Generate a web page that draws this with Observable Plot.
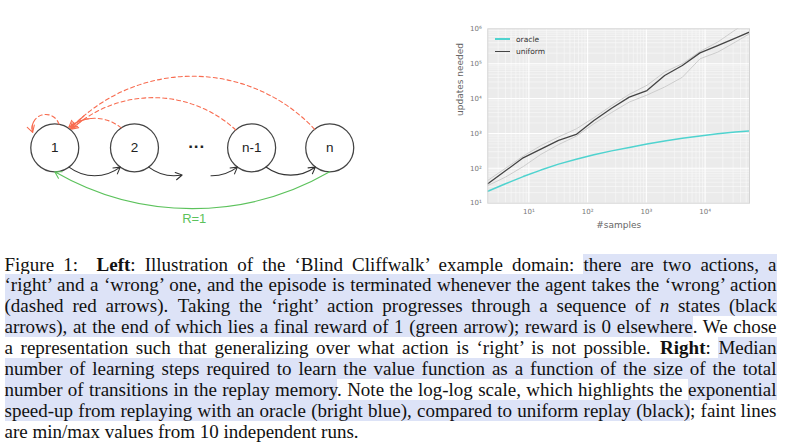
<!DOCTYPE html>
<html><head><meta charset="utf-8">
<script src="https://cdn.jsdelivr.net/npm/d3@7"></script>
<script src="https://cdn.jsdelivr.net/npm/@observablehq/plot@0.6"></script>
<style>
html,body{margin:0;padding:0;background:#fff;}
#fig{position:relative;width:792px;height:447px;overflow:hidden;background:#fff;}
#diagram{position:absolute;left:0;top:0;}
#chart{position:absolute;left:430px;top:0;}
#legend{position:absolute;left:0;top:0;font-family:"DejaVu Sans";font-size:7.5px;color:#333;}
.lgline{position:absolute;width:15px;}
.lgtext{position:absolute;white-space:nowrap;line-height:9px;}
#caption{position:absolute;left:4.5px;top:254.5px;width:772px;font-family:"Liberation Serif";font-size:19px;color:#111;}
.ln{height:20.9px;line-height:20.9px;white-space:nowrap;}
.hl{background:#dde3f7;}
</style>
</head><body>
<div id="fig">
  <div id="diagram"></div>
  <div id="chart"></div>
  <div id="legend"></div>
  <div id="caption">
    <div class="ln"><span>Figure 1:&#8194; <b>Left</b>: Illustration of the ‘Blind Cliffwalk’ example domain: <span class="hl">there are two actions, a</span></span></div>
    <div class="ln"><span><span class="hl">‘right’ and a ‘wrong’ one, and the episode is terminated whenever the agent takes the ‘wrong’ action</span></span></div>
    <div class="ln"><span><span class="hl">(dashed red arrows).&#8194;Taking the ‘right’ action progresses through a sequence of <i>n</i> states (black</span></span></div>
    <div class="ln"><span><span class="hl">arrows), at the end of which lies a final reward of 1 (green arrow); reward is 0 elsewhere</span>. We chose</span></div>
    <div class="ln"><span>a representation such that generalizing over what action is ‘right’ is not possible.&#8194;<b>Right</b>: <span class="hl">Median</span></span></div>
    <div class="ln"><span><span class="hl">number of learning steps required to learn the value function as a function of the size of the total</span></span></div>
    <div class="ln"><span><span class="hl">number of transitions in the replay memory</span>. Note the log-log scale, which highlights the <span class="hl">exponential</span></span></div>
    <div class="ln"><span><span class="hl">speed-up from replaying with an oracle (bright blue), compared to uniform replay (black)</span>; faint lines</span></div>
    <div class="ln"><span>are min/max values from 10 independent runs.</span></div>
  </div>
</div>
<script>
// ---------------- chart data ----------------
const samples        = [2, 4, 8, 16, 32, 64, 128, 256, 512, 1024, 2048, 4096, 8192, 16384, 32768, 65536];
const oracleUpdates  = [22, 36, 58, 89, 132, 182, 245, 316, 398, 501, 603, 724, 851, 977, 1096, 1202];
const uniformUpdates = [36, 85, 200, 355, 630, 933, 2340, 5250, 11000, 17000, 45700, 89000, 204000, 331000, 537000, 891000];
const uniformMin     = [32, 56, 112, 251, 479, 832, 1900, 3980, 7940, 12600, 21400, 40700, 138000, 214000, 417000, 830000];
const uniformMax     = [45, 100, 224, 447, 794, 1350, 2820, 6310, 13200, 24000, 57500, 100000, 224000, 417000, 933000, 2000000];
const seriesNames    = ["oracle", "uniform"];
const xTicks         = [10, 100, 1000, 10000];
const yTicks         = [10, 100, 1000, 10000, 100000, 1000000];
const xLabel = "#samples";
const yLabel = "updates needed";

// ---------------- diagram data ----------------
const nodeNames   = ["1", "2", "n-1", "n"];
const ellipsis    = "···";
const rightSteps  = [["1", "2"], ["n-1", "n"]];
const wrongSteps  = [["2", "1"], ["n-1", "1"], ["n", "1"]];
const rewardStep  = ["n", "1"];
const rewardText  = "R=1";

// ---------------- chart ----------------
const colors = {oracle: "#4fd3cf", uniform: "#454545", faint: "#cdcdcd"};
const sup = {1: "¹", 2: "²", 3: "³", 4: "⁴", 5: "⁵", 6: "⁶"};
const fmt = d => "10" + sup[Math.round(Math.log10(d))];
const rows = samples.map((s, i) => ({s, oracle: oracleUpdates[i], uniform: uniformUpdates[i], lo: uniformMin[i], hi: uniformMax[i]}));
const minorX = [], minorY = [];
for (const dec of [1, 10, 100, 1000, 10000]) for (let m = 2; m <= 9; m++) minorX.push(dec * m);
for (const dec of [10, 100, 1000, 10000, 100000]) for (let m = 2; m <= 9; m++) minorY.push(dec * m);

const chart = Plot.plot({
  width: 362, height: 240,
  marginLeft: 57.3, marginRight: 43, marginTop: 28.3, marginBottom: 37.3,
  style: {fontFamily: "DejaVu Sans", fontSize: "7px", color: "#777", background: "transparent"},
  x: {type: "log", domain: [2, 57000], ticks: xTicks, tickFormat: fmt, tickSize: 0, tickPadding: 6, label: null},
  y: {type: "log", domain: [10, 1e6], ticks: yTicks, tickFormat: fmt, tickSize: 0, tickPadding: 6, label: null},
  marks: [
    Plot.frame({fill: "#ebebeb", stroke: "none"}),
    Plot.ruleX(minorX.filter(v => v >= 2 && v <= 57000), {stroke: "#fafafa", strokeWidth: 0.6}),
    Plot.ruleY(minorY, {stroke: "#fafafa", strokeWidth: 0.6}),
    Plot.ruleX(xTicks, {stroke: "white", strokeWidth: 1.1}),
    Plot.ruleY(yTicks, {stroke: "white", strokeWidth: 1.1}),
    Plot.line(rows, {x: "s", y: "lo", stroke: colors.faint, strokeWidth: 1, clip: true}),
    Plot.line(rows, {x: "s", y: "hi", stroke: colors.faint, strokeWidth: 1, clip: true}),
    Plot.line(rows, {x: "s", y: "oracle", stroke: colors.oracle, strokeWidth: 1.5, clip: true}),
    Plot.line(rows, {x: "s", y: "uniform", stroke: colors.uniform, strokeWidth: 1.3, clip: true}),
    Plot.frame({stroke: "#d4d4d4", strokeWidth: 1}),
    Plot.text([xLabel], {frameAnchor: "bottom", dy: 25, fontSize: 9, fill: "#666"}),
    Plot.text([yLabel], {frameAnchor: "left", dx: -28, rotate: -90, fontSize: 9, fill: "#666"})
  ]
});
document.getElementById("chart").appendChild(chart);

// legend (HTML overlay inside the axes)
const legend = document.getElementById("legend");
seriesNames.forEach((name, i) => {
  const yc = 39.3 + i * 12.4;
  const h = name === "oracle" ? 1.8 : 1.4;
  const ln = document.createElement("div");
  ln.className = "lgline";
  ln.style.left = "495px"; ln.style.top = (yc - h / 2) + "px";
  ln.style.height = h + "px";
  ln.style.background = colors[name];
  legend.appendChild(ln);
  const tx = document.createElement("div");
  tx.className = "lgtext";
  tx.style.left = "516px"; tx.style.top = (yc - 4.8) + "px";
  tx.textContent = name;
  legend.appendChild(tx);
});

// ---------------- diagram ----------------
const slot = {"1": 0, "2": 1, [ellipsis]: 1.78, "n-1": 2.47, "n": 3.45};
const k = 79.7;         // pixels per layout unit (same on x and y)
const R = 24;           // node radius in px
const red = "#f86c50", green = "#5cc25c", black = "#333";
const wrongBend = {"2": -73, "n-1": -54, "n": -55};
const arrowBase = {x1: d => slot[d[0]], y1: 0, x2: d => slot[d[1]], y2: 0};

const marks = [];
marks.push(Plot.dot(nodeNames, {x: d => slot[d], y: 0, r: R, fill: "white", stroke: "#444", strokeWidth: 1.25}));
marks.push(Plot.text(nodeNames, {x: d => slot[d], y: 0, text: d => d, fontSize: 13.5, fill: "#222"}));
marks.push(Plot.text([ellipsis], {x: slot[ellipsis], y: 0, text: d => d, fontSize: 17, fontWeight: "bold", fill: "#222", dy: -1}));

marks.push(Plot.arrow(rightSteps, {...arrowBase, bend: -70, insetStart: R, insetEnd: R, stroke: black, strokeWidth: 1.1, headLength: 10}));
marks.push(Plot.arrow([["2"]], {x1: d => slot[d[0]], y1: 0, x2: d => slot[d[0]] + 1, y2: 0, bend: -70, insetStart: R, insetEnd: 42, stroke: black, strokeWidth: 1.1, headLength: 10}));
marks.push(Plot.arrow([["n-1"]], {x1: d => slot[d[0]] - 1, y1: 0, x2: d => slot[d[0]], y2: 0, bend: -70, insetStart: 48, insetEnd: R, stroke: black, strokeWidth: 1.1, headLength: 10}));

for (const e of wrongSteps) {
  const chord = Math.abs(slot[e[0]] - slot[e[1]]) * k;
  const bend = wrongBend[e[0]];
  marks.push(Plot.arrow([e], {...arrowBase, bend, insetStart: R, insetEnd: R + 1, headLength: 0, stroke: red, strokeWidth: 1.1, strokeDasharray: "4,3"}));
  marks.push(Plot.arrow([e], {...arrowBase, bend, insetStart: chord - R - 3, insetEnd: R + 1, headLength: 10, stroke: red, strokeWidth: 1.1}));
}
const a0 = 80 * Math.PI / 180, a1 = 145 * Math.PI / 180;
const loop = {
  x1: d => slot[d] + R * Math.cos(a0) / k, y1: R * Math.sin(a0) / k,
  x2: d => slot[d] + (R + 3) * Math.cos(a1) / k, y2: (R + 3) * Math.sin(a1) / k
};
const loopChord = Math.hypot(R * Math.cos(a0) - (R + 3) * Math.cos(a1), R * Math.sin(a0) - (R + 3) * Math.sin(a1));
marks.push(Plot.arrow(["1"], {...loop, bend: -90, headLength: 0, stroke: red, strokeWidth: 1.1, strokeDasharray: "4,3"}));
marks.push(Plot.arrow(["1"], {...loop, bend: -90, insetStart: loopChord - 2, headLength: 10, stroke: red, strokeWidth: 1.1}));

marks.push(Plot.arrow([rewardStep], {x1: d => slot[d[0]], y1: -R / k, x2: d => slot[d[1]], y2: -R / k, bend: 30, stroke: green, strokeWidth: 1.1, headLength: 10}));
marks.push(Plot.text([rewardText], {x: (slot[rewardStep[0]] + slot[rewardStep[1]]) / 2, y: 0, dx: 2, dy: 71, text: d => d, fontSize: 13, fill: green}));

const diagram = Plot.plot({
  width: 380, height: 240, margin: 0,
  style: {fontFamily: "Liberation Sans", background: "transparent"},
  x: {domain: [-0.681, 4.087], axis: null},
  y: {domain: [-1.163, 1.848], axis: null},
  marks
});
document.getElementById("diagram").appendChild(diagram);

// ---------------- caption justification ----------------
const W = 772;
const lines = [...document.querySelectorAll("#caption .ln")];
lines.forEach((ln, i) => {
  if (i === lines.length - 1) return;
  const inner = ln.firstElementChild;
  const w = inner.getBoundingClientRect().width;
  const n = (inner.textContent.match(/ /g) || []).length;
  let ws = (W - w) / n;
  if (ws < -1.6) {
    ws = -1.6;
    ln.style.wordSpacing = ws + "px";
    const w2 = inner.getBoundingClientRect().width;
    inner.style.display = "inline-block";
    inner.style.transformOrigin = "0 50%";
    inner.style.transform = `scaleX(${W / w2})`;
  } else {
    ln.style.wordSpacing = ws + "px";
  }
});
</script>
</body></html>
